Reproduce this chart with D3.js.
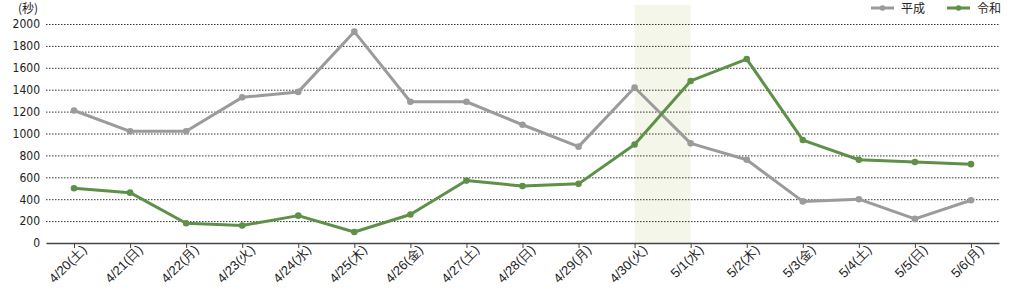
<!DOCTYPE html>
<html>
<head>
<meta charset="utf-8">
<script src="https://cdn.jsdelivr.net/npm/d3@7"></script>
<style>
  body { margin: 0; background: #fff; }
  svg { display: block; font-family: "Noto Sans CJK JP", "Noto Sans", sans-serif; }
</style>
</head>
<body>
<svg></svg>
<script>
var dates = ["4/20(土)","4/21(日)","4/22(月)","4/23(火)","4/24(水)","4/25(木)","4/26(金)","4/27(土)","4/28(日)","4/29(月)","4/30(火)","5/1(水)","5/2(木)","5/3(金)","5/4(土)","5/5(日)","5/6(月)"];
var heisei = [1210,1020,1020,1330,1380,1930,1290,1290,1080,880,1420,910,760,380,400,220,390];
var reiwa = [500,460,180,160,250,100,260,570,520,540,900,1480,1680,940,760,740,720];
var yTicks = [0,200,400,600,800,1000,1200,1400,1600,1800,2000];
var highlight = ["4/30(火)","5/1(水)"];
var seriesNames = ["平成","令和"];
var colors = ["#9b9b9b","#5e9048"];

var svgWidth = 1016, svgHeight = 293;
var margin = {top: 24, right: 17, bottom: 50, left: 46};
var width = svgWidth - margin.left - margin.right;
var height = svgHeight - margin.top - margin.bottom;

var svg = d3.select("svg")
  .attr("width", svgWidth)
  .attr("height", svgHeight);

var g = svg.append("g")
  .attr("transform", "translate(" + margin.left + "," + margin.top + ")");

var x = d3.scalePoint()
  .domain(dates)
  .range([0, width])
  .padding(0.5);

var y = d3.scaleLinear()
  .domain([0, 2000])
  .range([height, 0]);

// highlighted period
g.append("rect")
  .attr("x", x(highlight[0]))
  .attr("y", y(2000) - 19)
  .attr("width", x(highlight[1]) - x(highlight[0]))
  .attr("height", height - y(2000) + 19)
  .attr("fill", "#f3f6e8");

// grid lines
g.selectAll(".grid")
  .data(yTicks.filter(function(d){ return d > 0; }))
  .enter().append("line")
  .attr("x1", 0)
  .attr("x2", width)
  .attr("y1", function(d){ return y(d) + 0.5; })
  .attr("y2", function(d){ return y(d) + 0.5; })
  .attr("stroke", "#333")
  .attr("stroke-width", 1)
  .attr("stroke-dasharray", "1.5,1.5");

// y axis labels
var yAxis = g.append("g")
  .call(d3.axisLeft(y).tickValues(yTicks).tickFormat(d3.format("d")).tickSize(0).tickPadding(6));
yAxis.select(".domain").remove();
yAxis.selectAll("text")
  .attr("font-size", 12)
  .attr("fill", "#222")
  .style("font-family", "'Liberation Sans Narrow', 'DejaVu Sans Condensed', sans-serif");

svg.append("text")
  .attr("x", 18)
  .attr("y", 13)
  .attr("font-size", 12)
  .attr("fill", "#222")
  .text("(秒)");

// x axis
var xAxis = g.append("g")
  .attr("transform", "translate(0," + height + ")")
  .call(d3.axisBottom(x).tickSizeInner(5).tickSizeOuter(0).tickPadding(3));
xAxis.select(".domain")
  .attr("stroke", "#444")
  .attr("stroke-width", 1.5);
xAxis.selectAll(".tick line").attr("stroke", "#444");
xAxis.selectAll("text")
  .attr("font-size", 13)
  .attr("fill", "#222")
  .attr("text-anchor", "end")
  .attr("dx", "0.3em")
  .attr("dy", "0.5em")
  .attr("transform", "rotate(-45)");

// lines
var line = d3.line()
  .x(function(d){ return x(d.date); })
  .y(function(d){ return y(d.value); });

[heisei, reiwa].forEach(function(values, i) {
  var data = values.map(function(v, j){ return {date: dates[j], value: v}; });
  g.append("path")
    .datum(data)
    .attr("fill", "none")
    .attr("stroke", colors[i])
    .attr("stroke-width", 3)
    .attr("stroke-linejoin", "round")
    .attr("d", line);
  g.selectAll(".pt" + i)
    .data(data)
    .enter().append("circle")
    .attr("cx", function(d){ return x(d.date); })
    .attr("cy", function(d){ return y(d.value); })
    .attr("r", 3.3)
    .attr("fill", colors[i]);
});

// legend
var legend = svg.append("g");
var legendX = [871, 947];
seriesNames.forEach(function(name, i) {
  var lg = legend.append("g").attr("transform", "translate(" + legendX[i] + ",8)");
  lg.append("line")
    .attr("x1", 0).attr("x2", 23)
    .attr("stroke", colors[i]).attr("stroke-width", 3);
  lg.append("circle")
    .attr("cx", 11.5).attr("r", 2.8).attr("fill", colors[i]);
  lg.append("text")
    .attr("x", 30).attr("y", 4.5)
    .attr("font-size", 12)
    .attr("fill", "#222")
    .text(name);
});
</script>
</body>
</html>
